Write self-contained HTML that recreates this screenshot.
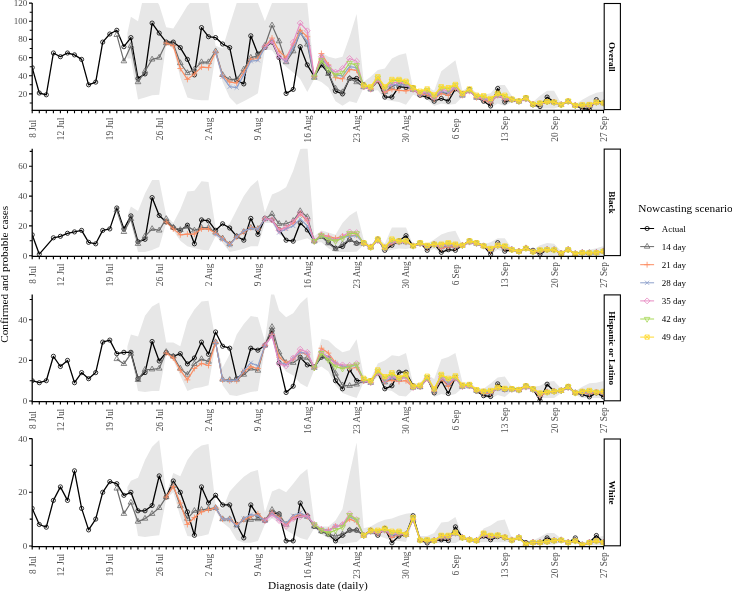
<!DOCTYPE html>
<html><head><meta charset="utf-8"><title>Nowcasting scenarios</title>
<style>html,body{margin:0;padding:0;background:#fff}svg{display:block}</style></head>
<body>
<svg width="732" height="591" viewBox="0 0 732 591" font-family="'Liberation Serif', serif">
<rect width="732" height="591" fill="#fff"/>
<defs><marker id="ma" viewBox="-5 -5 10 10" markerWidth="10" markerHeight="10" refX="0" refY="0" markerUnits="userSpaceOnUse" orient="0"><g fill="none" stroke="#000000" stroke-width="0.8"><circle r="2.1"/></g></marker><marker id="m14" viewBox="-5 -5 10 10" markerWidth="10" markerHeight="10" refX="0" refY="0" markerUnits="userSpaceOnUse" orient="0"><g fill="none" stroke="#6b6b6b" stroke-width="0.8"><path d="M0-3.25L2.8 1.6H-2.8Z"/></g></marker><marker id="m21" viewBox="-5 -5 10 10" markerWidth="10" markerHeight="10" refX="0" refY="0" markerUnits="userSpaceOnUse" orient="0"><g fill="none" stroke="#FC8D62" stroke-width="0.8"><path d="M-2.95 0H2.95M0-2.95V2.95"/></g></marker><marker id="m28" viewBox="-5 -5 10 10" markerWidth="10" markerHeight="10" refX="0" refY="0" markerUnits="userSpaceOnUse" orient="0"><g fill="none" stroke="#8DA0CB" stroke-width="0.8"><path d="M-2.1-2.1L2.1 2.1M-2.1 2.1L2.1-2.1"/></g></marker><marker id="m35" viewBox="-5 -5 10 10" markerWidth="10" markerHeight="10" refX="0" refY="0" markerUnits="userSpaceOnUse" orient="0"><g fill="none" stroke="#E78AC3" stroke-width="0.8"><path d="M0-2.95L2.95 0L0 2.95L-2.95 0Z"/></g></marker><marker id="m42" viewBox="-5 -5 10 10" markerWidth="10" markerHeight="10" refX="0" refY="0" markerUnits="userSpaceOnUse" orient="0"><g fill="none" stroke="#A6D854" stroke-width="0.8"><path d="M0 3.25L2.8-1.6H-2.8Z"/></g></marker><marker id="m49" viewBox="-5 -5 10 10" markerWidth="10" markerHeight="10" refX="0" refY="0" markerUnits="userSpaceOnUse" orient="0"><g fill="none" stroke="#FFD92F" stroke-width="0.8"><path d="M-2.1-2.1H2.1V2.1H-2.1ZM-2.1-2.1L2.1 2.1M-2.1 2.1L2.1-2.1"/></g></marker></defs>
<clipPath id="c0"><rect x="32.2" y="3.1" width="572" height="107.3"/></clipPath>
<g clip-path="url(#c0)"><polygon points="127.4,33.1 130.9,16.7 138,21.2 145,-10.5 152.1,-6 159.2,4.9 166.2,27.2 173.3,28.5 180.3,17.6 187.4,5.8 194.4,-1.5 201.5,-1.5 208.5,3.1 215.6,45.8 222.6,48.5 229.7,24.9 236.7,3.1 243.8,-1.5 250.8,-1.5 257.9,3.1 264.9,21.2 272,3.1 279.1,-4.2 286.1,-4.2 293.2,-4.2 300.2,-4.2 307.3,3.1 314.3,74.9 321.4,52.5 328.4,56.7 335.5,58.5 342.5,56.7 349.6,36.7 356.6,14 363.7,81.7 370.7,76.7 377.8,69.9 384.8,68.5 391.9,58.5 399,54.9 406,53.3 413.1,88.5 420.1,90.8 427.2,87 434.2,90.8 441.3,71.2 448.3,65.8 455.4,60.3 462.4,90.8 469.5,86.7 476.5,93 483.6,94.8 490.6,93.3 497.7,85.1 504.8,85.1 511.8,95.8 518.9,100.3 525.9,97.1 533,102.1 540,95.8 547.1,90.8 554.1,90.8 561.2,103.5 568.2,100.3 575.3,104.4 582.3,99.7 589.4,95.8 596.4,92.7 603.5,91.4 603.5,109.8 596.4,109.8 589.4,109.8 582.3,109.8 575.3,106.2 568.2,102.1 561.2,106.2 554.1,108.5 547.1,108.5 540,108.5 533,105.7 525.9,99.4 518.9,102.1 511.8,102.1 504.8,106 497.7,103.5 490.6,107.9 483.6,101.2 476.5,98.5 469.5,92.1 462.4,96.7 455.4,104.1 448.3,104.8 441.3,103.5 434.2,106 427.2,99.7 420.1,97.1 413.1,94.8 406,104.8 399,102.1 391.9,100.9 384.8,99.7 377.8,90.3 370.7,90.8 363.7,87.6 356.6,103 349.6,101.2 342.5,105.7 335.5,101.2 328.4,87.6 321.4,82.1 314.3,78.9 307.3,92.1 300.2,78.9 293.2,72.5 286.1,66.7 279.1,60.3 272,50.3 264.9,49.4 257.9,93.3 250.8,97.6 243.8,101.2 236.7,104.8 229.7,97.6 222.6,82.1 215.6,54.9 208.5,100.3 201.5,100.3 194.4,99.4 187.4,97.6 180.3,77.6 173.3,48.5 166.2,44 159.2,94.8 152.1,95.3 145,97.6 138,99.4 130.9,58.5 127.4,58.5" fill="#e7e7e7"/><polyline points="32.2,67.6 39.3,93 46.3,94.8 53.4,53 60.4,56.7 67.5,53 74.5,54.9 81.6,59.4 88.6,84.8 95.7,82.1 102.7,42.1 109.8,34 116.8,30.3 123.9,46.7 130.9,37.6 138,78.5 145,73.9 152.1,23.1 159.2,33.1 166.2,42.1 173.3,42.1 180.3,47.6 187.4,59.4 194.4,74.9 201.5,27.6 208.5,36.7 215.6,37.6 222.6,44 229.7,47.6 236.7,80.3 243.8,83.9 250.8,35.8 257.9,54 264.9,47.6 272,42.1 279.1,57.6 286.1,93.5 293.2,89.4 300.2,46.7 307.3,64.9 314.3,76.7 321.4,64.9 328.4,73 335.5,91.2 342.5,93.9 349.6,78.5 356.6,78.5 363.7,84.8 370.7,88.9 377.8,80.7 384.8,97.1 391.9,97.1 399,86.7 406,87.6 413.1,87.6 420.1,95.3 427.2,97.1 434.2,101.2 441.3,98.5 448.3,101.2 455.4,88.9 462.4,93.9 469.5,89.4 476.5,97.1 483.6,101.2 490.6,106 497.7,88.5 504.8,102.1 511.8,99.4 518.9,101.2 525.9,97.6 533,104.8 540,106.6 547.1,97.1 554.1,102.1 561.2,104.8 568.2,101.2 575.3,105.7 582.3,108.5 589.4,109.4 596.4,99.7 603.5,103" fill="none" stroke="#000000" stroke-width="1.3" stroke-linejoin="round" marker-start="url(#ma)" marker-mid="url(#ma)" marker-end="url(#ma)"/><polyline points="116.8,34.9 123.9,61.2 130.9,45.8 138,82.1 145,71.2 152.1,59.4 159.2,57.6 166.2,43.1 173.3,44 180.3,63 187.4,73 194.4,69.4 201.5,62.1 208.5,62.1 215.6,51.2 222.6,74.9 229.7,79.4 236.7,79.4 243.8,69.4 250.8,57.6 257.9,55.8 264.9,45.8 272,25.3 279.1,41.2 286.1,62.1 293.2,51.2 300.2,32.2 307.3,44.4 314.3,77.6 321.4,61.2 328.4,73.9 335.5,88.5 342.5,92.1 349.6,78.5 356.6,82.1 363.7,87 370.7,89.4 377.8,79.8 384.8,91.8 391.9,86.7 399,83.4 406,85 413.1,89.7 420.1,94.4 427.2,93.3 434.2,98.7 441.3,92.2 448.3,93.8 455.4,87.7 462.4,95.5 469.5,91 476.5,97.6 483.6,99.1 490.6,101.8 497.7,95.4 504.8,99.1 511.8,100 518.9,101.5 525.9,99 533,104.3 540,104.1 547.1,101.9 554.1,102.3 561.2,104.8 568.2,101.5 575.3,105.5 582.3,105.9 589.4,105.9 596.4,102.3 603.5,103" fill="none" stroke="#6b6b6b" stroke-width="1.2" stroke-linejoin="round" marker-start="url(#m14)" marker-mid="url(#m14)" marker-end="url(#m14)"/><polyline points="166.2,43.1 173.3,45.8 180.3,68.5 187.4,79.4 194.4,73.9 201.5,67.1 208.5,67.6 215.6,52.1 222.6,75.8 229.7,82.1 236.7,83 243.8,72.1 250.8,59.4 257.9,58.5 264.9,46.7 272,38.1 279.1,51.2 286.1,57.6 293.2,44.9 300.2,30.3 307.3,36.7 314.3,76.7 321.4,53.5 328.4,64.9 335.5,77.6 342.5,78.8 349.6,69.4 356.6,70.3 363.7,86.8 370.7,89.4 377.8,79.9 384.8,92.1 391.9,89.4 399,90.3 406,90.8 413.1,89.2 420.1,94.6 427.2,94.2 434.2,99.1 441.3,93.5 448.3,95.3 455.4,88.1 462.4,95.3 469.5,90.8 476.5,97.6 483.6,99.6 490.6,102.8 497.7,94.9 504.8,99.6 511.8,100 518.9,101.5 525.9,98.8 533,104.4 540,104.7 547.1,101.8 554.1,102.3 561.2,104.8 568.2,101.4 575.3,105.5 582.3,106.5 589.4,106.7 596.4,102.3 603.5,103" fill="none" stroke="#FC8D62" stroke-width="1.2" stroke-linejoin="round" marker-start="url(#m21)" marker-mid="url(#m21)" marker-end="url(#m21)"/><polyline points="215.6,52.1 222.6,76.7 229.7,86.7 236.7,87.6 243.8,74.9 250.8,61.2 257.9,60.3 264.9,47.6 272,41.2 279.1,56.7 286.1,61.2 293.2,47.6 300.2,33.1 307.3,41.2 314.3,76.7 321.4,56.7 328.4,67.1 335.5,74.9 342.5,75.8 349.6,66.7 356.6,67.6 363.7,86.8 370.7,88.8 377.8,79.3 384.8,88.9 391.9,84.8 399,84.4 406,85.3 413.1,89.1 420.1,94 427.2,92.6 434.2,98.1 441.3,91.5 448.3,92.7 455.4,87.4 462.4,95.1 469.5,90.6 476.5,97.2 483.6,98.4 490.6,101.2 497.7,95 504.8,98.4 511.8,99.8 518.9,101.4 525.9,98.8 533,104.3 540,103.9 547.1,101.9 554.1,102.3 561.2,104.8 568.2,101.4 575.3,105.5 582.3,105.7 589.4,105.7 596.4,102.3 603.5,103" fill="none" stroke="#8DA0CB" stroke-width="1.2" stroke-linejoin="round" marker-start="url(#m28)" marker-mid="url(#m28)" marker-end="url(#m28)"/><polyline points="264.9,46.7 272,41.2 279.1,56.7 286.1,60.3 293.2,42.1 300.2,23.1 307.3,30.8 314.3,76.7 321.4,56.7 328.4,66.2 335.5,72.1 342.5,68.5 349.6,58.5 356.6,61.2 363.7,87.1 370.7,88.8 377.8,79.1 384.8,89.4 391.9,82.8 399,82.1 406,83.7 413.1,89.6 420.1,93.4 427.2,91.6 434.2,97.2 441.3,89.5 448.3,90.7 455.4,86.8 462.4,95.2 469.5,91 476.5,97.1 483.6,97.9 490.6,100.1 497.7,95.4 504.8,97.6 511.8,99.9 518.9,101.4 525.9,99 533,104.2 540,103.3 547.1,101.9 554.1,102.3 561.2,104.8 568.2,101.4 575.3,105.4 582.3,105.1 589.4,104.9 596.4,102.3 603.5,103" fill="none" stroke="#E78AC3" stroke-width="1.2" stroke-linejoin="round" marker-start="url(#m35)" marker-mid="url(#m35)" marker-end="url(#m35)"/><polyline points="314.3,76.7 321.4,60.3 328.4,69.4 335.5,74.9 342.5,73 349.6,63 356.6,65.2 363.7,86 370.7,87.4 377.8,77.6 384.8,87.8 391.9,80.7 399,80.3 406,82.3 413.1,88.3 420.1,92 427.2,90 434.2,95.8 441.3,87.7 448.3,88.7 455.4,85.3 462.4,94.2 469.5,89.7 476.5,96.1 483.6,96.5 490.6,99.1 497.7,94.1 504.8,96.2 511.8,99.4 518.9,101.1 525.9,98.2 533,104.1 540,103.1 547.1,101.7 554.1,102.2 561.2,104.8 568.2,101.1 575.3,105.4 582.3,104.9 589.4,104.6 596.4,102.2 603.5,103" fill="none" stroke="#A6D854" stroke-width="1.2" stroke-linejoin="round" marker-start="url(#m42)" marker-mid="url(#m42)" marker-end="url(#m42)"/><polyline points="363.7,85.1 370.7,86.7 377.8,76.7 384.8,86.7 391.9,79.4 399,79.4 406,81.2 413.1,87.6 420.1,91.2 427.2,88.9 434.2,94.8 441.3,86.7 448.3,87.6 455.4,84.4 462.4,93.3 469.5,88.9 476.5,95.2 483.6,95.7 490.6,98.5 497.7,93.3 504.8,95.2 511.8,99 518.9,100.9 525.9,97.7 533,104.1 540,103 547.1,101.6 554.1,102.1 561.2,104.8 568.2,100.9 575.3,105.4 582.3,104.8 589.4,104.5 596.4,102.1 603.5,103" fill="none" stroke="#FFD92F" stroke-width="1.2" stroke-linejoin="round" marker-start="url(#m49)" marker-mid="url(#m49)" marker-end="url(#m49)"/></g>
<path d="M32.2 3.1V110.4H604.2" fill="none" stroke="#000" stroke-width="1.25"/><path d="M32.2 110.4v2.9M39.3 110.4v2.9M46.3 110.4v2.9M53.4 110.4v2.9M60.4 110.4v2.9M67.5 110.4v2.9M74.5 110.4v2.9M81.6 110.4v2.9M88.6 110.4v2.9M95.7 110.4v2.9M102.7 110.4v2.9M109.8 110.4v2.9M116.8 110.4v2.9M123.9 110.4v2.9M130.9 110.4v2.9M138 110.4v2.9M145 110.4v2.9M152.1 110.4v2.9M159.2 110.4v2.9M166.2 110.4v2.9M173.3 110.4v2.9M180.3 110.4v2.9M187.4 110.4v2.9M194.4 110.4v2.9M201.5 110.4v2.9M208.5 110.4v2.9M215.6 110.4v2.9M222.6 110.4v2.9M229.7 110.4v2.9M236.7 110.4v2.9M243.8 110.4v2.9M250.8 110.4v2.9M257.9 110.4v2.9M264.9 110.4v2.9M272 110.4v2.9M279.1 110.4v2.9M286.1 110.4v2.9M293.2 110.4v2.9M300.2 110.4v2.9M307.3 110.4v2.9M314.3 110.4v2.9M321.4 110.4v2.9M328.4 110.4v2.9M335.5 110.4v2.9M342.5 110.4v2.9M349.6 110.4v2.9M356.6 110.4v2.9M363.7 110.4v2.9M370.7 110.4v2.9M377.8 110.4v2.9M384.8 110.4v2.9M391.9 110.4v2.9M399 110.4v2.9M406 110.4v2.9M413.1 110.4v2.9M420.1 110.4v2.9M427.2 110.4v2.9M434.2 110.4v2.9M441.3 110.4v2.9M448.3 110.4v2.9M455.4 110.4v2.9M462.4 110.4v2.9M469.5 110.4v2.9M476.5 110.4v2.9M483.6 110.4v2.9M490.6 110.4v2.9M497.7 110.4v2.9M504.8 110.4v2.9M511.8 110.4v2.9M518.9 110.4v2.9M525.9 110.4v2.9M533 110.4v2.9M540 110.4v2.9M547.1 110.4v2.9M554.1 110.4v2.9M561.2 110.4v2.9M568.2 110.4v2.9M575.3 110.4v2.9M582.3 110.4v2.9M589.4 110.4v2.9M596.4 110.4v2.9M603.5 110.4v2.9M32.2 93.9h-3.2M32.2 75.8h-3.2M32.2 57.6h-3.2M32.2 39.4h-3.2M32.2 21.2h-3.2M32.2 3.1h-3.2M32.2 103h-2.5M32.2 84.8h-2.5M32.2 66.7h-2.5M32.2 48.5h-2.5M32.2 30.3h-2.5M32.2 12.2h-2.5" fill="none" stroke="#000" stroke-width="1.1"/><text x="27.3" y="96.9" text-anchor="end" font-size="9" fill="#4d4d4d">20</text><text x="27.3" y="78.8" text-anchor="end" font-size="9" fill="#4d4d4d">40</text><text x="27.3" y="60.6" text-anchor="end" font-size="9" fill="#4d4d4d">60</text><text x="27.3" y="42.4" text-anchor="end" font-size="9" fill="#4d4d4d">80</text><text x="27.3" y="24.2" text-anchor="end" font-size="9" fill="#4d4d4d">100</text><text x="27.3" y="6.1" text-anchor="end" font-size="9" fill="#4d4d4d">120</text><text transform="translate(35.6 128.9) rotate(-90)" text-anchor="middle" font-size="9.3" fill="#4d4d4d">8 Jul</text><text transform="translate(63.8 128.9) rotate(-90)" text-anchor="middle" font-size="9.3" fill="#4d4d4d">12 Jul</text><text transform="translate(113.2 128.9) rotate(-90)" text-anchor="middle" font-size="9.3" fill="#4d4d4d">19 Jul</text><text transform="translate(162.6 128.9) rotate(-90)" text-anchor="middle" font-size="9.3" fill="#4d4d4d">26 Jul</text><text transform="translate(211.9 128.9) rotate(-90)" text-anchor="middle" font-size="9.3" fill="#4d4d4d">2 Aug</text><text transform="translate(261.3 128.9) rotate(-90)" text-anchor="middle" font-size="9.3" fill="#4d4d4d">9 Aug</text><text transform="translate(310.7 128.9) rotate(-90)" text-anchor="middle" font-size="9.3" fill="#4d4d4d">16 Aug</text><text transform="translate(360 128.9) rotate(-90)" text-anchor="middle" font-size="9.3" fill="#4d4d4d">23 Aug</text><text transform="translate(409.4 128.9) rotate(-90)" text-anchor="middle" font-size="9.3" fill="#4d4d4d">30 Aug</text><text transform="translate(458.8 128.9) rotate(-90)" text-anchor="middle" font-size="9.3" fill="#4d4d4d">6 Sep</text><text transform="translate(508.2 128.9) rotate(-90)" text-anchor="middle" font-size="9.3" fill="#4d4d4d">13 Sep</text><text transform="translate(557.5 128.9) rotate(-90)" text-anchor="middle" font-size="9.3" fill="#4d4d4d">20 Sep</text><text transform="translate(606.9 128.9) rotate(-90)" text-anchor="middle" font-size="9.3" fill="#4d4d4d">27 Sep</text><rect x="604.2" y="3.5" width="16.2" height="106.1" fill="#fff" stroke="#000" stroke-width="1.1"/><text transform="translate(609.4 56.8) rotate(90)" text-anchor="middle" font-size="9.2" font-weight="bold" fill="#000">Overall</text>
<clipPath id="c1"><rect x="32.2" y="148.7" width="572" height="107.7"/></clipPath>
<g clip-path="url(#c1)"><polygon points="128.1,214 130.9,206.5 138,211 145,193.6 152.1,180 159.2,180 166.2,215.5 173.3,222.9 180.3,209.5 187.4,191.6 194.4,190.7 201.5,181.2 208.5,181.9 215.6,227.4 222.6,227.4 229.7,223.4 236.7,209.8 243.8,196.1 250.8,186.3 257.9,180 264.9,212.5 272,194.6 279.1,191.6 286.1,187.2 293.2,170.8 300.2,149.3 307.3,145.4 314.3,236.3 321.4,230.4 328.4,232.5 335.5,234.8 342.5,222.9 349.6,215.5 356.6,211 363.7,239.6 370.7,245.3 377.8,237.1 384.8,243.8 391.9,227.4 399,227.4 406,227.4 413.1,244.7 420.1,241.5 427.2,243.8 434.2,239.6 441.3,234.5 448.3,231.9 455.4,230.7 462.4,244.7 469.5,239.3 476.5,241.5 483.6,244.5 490.6,242.3 497.7,238.3 504.8,238.3 511.8,248.2 518.9,250.5 525.9,246.8 533,249.7 540,245.3 547.1,242.9 554.1,243.8 561.2,251.2 568.2,248.5 575.3,252.7 582.3,251.2 589.4,249.7 596.4,248.2 603.5,245.9 603.5,255 596.4,255 589.4,255 582.3,255 575.3,254.5 568.2,251.2 561.2,254.5 554.1,255 547.1,255 540,255 533,252.7 525.9,249.7 518.9,252.7 511.8,251.2 504.8,252.3 497.7,249.7 490.6,254.2 483.6,247.5 476.5,244.5 469.5,242.3 462.4,247.2 455.4,251.2 448.3,252 441.3,252.7 434.2,249 427.2,251.2 420.1,244.5 413.1,247.8 406,249.1 399,248.4 391.9,249.7 384.8,251.2 377.8,240.8 370.7,249 363.7,244.7 356.6,251.7 349.6,252 342.5,252 335.5,252 328.4,248.2 321.4,242.3 314.3,242.3 307.3,238.3 300.2,240.2 293.2,242.3 286.1,238.3 279.1,234.8 272,222.9 264.9,222.9 257.9,246.2 250.8,246.2 243.8,248.7 236.7,250.5 229.7,252 222.6,242.7 215.6,236.3 208.5,250.5 201.5,249.7 194.4,248.2 187.4,246.2 180.3,240.8 173.3,230.4 166.2,222.9 159.2,247.1 152.1,250 145,252 138,252 130.9,222.9 128.1,217" fill="#e7e7e7"/><polyline points="32.2,234.8 39.3,254.2 53.4,237.8 60.4,236.3 67.5,233.3 74.5,231.9 81.6,230.4 88.6,242.3 95.7,243.8 102.7,230.4 109.8,228.9 116.8,208 123.9,228.9 130.9,215.9 138,241.8 145,239.3 152.1,197.6 159.2,215.5 166.2,221.9 173.3,227.7 180.3,230.4 187.4,225.2 194.4,243.8 201.5,219.9 208.5,220.8 215.6,230.4 222.6,223.8 229.7,228 236.7,236.3 243.8,240.2 250.8,218.4 257.9,234.4 264.9,218.4 272,219.9 279.1,229.6 286.1,240.2 293.2,241.2 300.2,222.9 307.3,229.9 314.3,241.2 321.4,236.3 328.4,242.3 335.5,248.2 342.5,246.5 349.6,239.6 356.6,243.3 363.7,242.7 370.7,247.2 377.8,239 384.8,250.3 391.9,245.3 399,240.8 406,235.7 413.1,245.9 420.1,242.7 427.2,250.3 434.2,244.1 441.3,252.3 448.3,249.7 455.4,250.3 462.4,245.3 469.5,240.8 476.5,242.7 483.6,245.9 490.6,254.2 497.7,242.7 504.8,251.2 511.8,249.7 518.9,251.4 525.9,248.2 533,250.3 540,254.2 547.1,249.7 554.1,249.9 561.2,253.3 568.2,249.7 575.3,253.8 582.3,252.7 589.4,252.9 596.4,252.7 603.5,251.2" fill="none" stroke="#000000" stroke-width="1.3" stroke-linejoin="round" marker-start="url(#ma)" marker-mid="url(#ma)" marker-end="url(#ma)"/><polyline points="116.8,210.1 123.9,231.9 130.9,218.9 138,243.8 145,236.3 152.1,228.9 159.2,230.4 166.2,218.9 173.3,227.4 180.3,229.9 187.4,226.6 194.4,230.4 201.5,227.7 208.5,227.7 215.6,232.5 222.6,238.3 229.7,244.2 236.7,236.3 243.8,231.9 250.8,227.7 257.9,228.9 264.9,218.9 272,214 279.1,223.8 286.1,223.8 293.2,220.8 300.2,211 307.3,217 314.3,241.2 321.4,236.3 328.4,243.2 335.5,249 342.5,244.2 349.6,239.6 356.6,243.3 363.7,243.6 370.7,247.2 377.8,240.7 384.8,248.1 391.9,242.6 399,242.1 406,242.1 413.1,246.1 420.1,243.6 427.2,247.1 434.2,244.7 441.3,247.2 448.3,245.8 455.4,246.5 462.4,245.6 469.5,242.2 476.5,243.6 483.6,246.1 490.6,250.1 497.7,245.6 504.8,247.7 511.8,249.7 518.9,251.4 525.9,248.2 533,251.8 540,251.2 547.1,249.7 554.1,249.9 561.2,253.3 568.2,249.7 575.3,253.8 582.3,252.7 589.4,252.9 596.4,252.7 603.5,251.2" fill="none" stroke="#6b6b6b" stroke-width="1.2" stroke-linejoin="round" marker-start="url(#m14)" marker-mid="url(#m14)" marker-end="url(#m14)"/><polyline points="166.2,221.9 173.3,228.9 180.3,234.8 187.4,234.1 194.4,234.1 201.5,228.9 208.5,228.9 215.6,233.3 222.6,238.7 229.7,244.5 236.7,237.1 243.8,231.9 250.8,227.7 257.9,228.9 264.9,218.9 272,219.9 279.1,229.6 286.1,227.7 293.2,222.9 300.2,214 307.3,220.8 314.3,241.2 321.4,234.8 328.4,236.3 335.5,238.3 342.5,236.3 349.6,235.7 356.6,235.1 363.7,243.4 370.7,247.2 377.8,240.3 384.8,248.6 391.9,243.2 399,241.9 406,241.8 413.1,246 420.1,243.5 427.2,247.8 434.2,244.5 441.3,248.3 448.3,246.6 455.4,247.4 462.4,245.5 469.5,241.8 476.5,243.4 483.6,246 490.6,251 497.7,245.5 504.8,248.4 511.8,249.7 518.9,251.4 525.9,248.2 533,251.8 540,251.8 547.1,249.7 554.1,249.9 561.2,253.3 568.2,249.7 575.3,253.8 582.3,252.7 589.4,252.9 596.4,252.7 603.5,251.2" fill="none" stroke="#FC8D62" stroke-width="1.2" stroke-linejoin="round" marker-start="url(#m21)" marker-mid="url(#m21)" marker-end="url(#m21)"/><polyline points="215.6,234.1 222.6,239.3 229.7,245.3 236.7,236.6 243.8,231.1 250.8,228.3 257.9,229.2 264.9,219.2 272,219.9 279.1,232.5 286.1,228.9 293.2,225.9 300.2,218.9 307.3,225.9 314.3,241.2 321.4,235.9 328.4,238.4 335.5,240.2 342.5,237.4 349.6,236.3 356.6,235.6 363.7,243.4 370.7,247.2 377.8,240.4 384.8,248 391.9,242.1 399,241.8 406,241.9 413.1,246 420.1,243.5 427.2,246.8 434.2,244.6 441.3,246.6 448.3,245.2 455.4,246.1 462.4,245.5 469.5,241.8 476.5,243.5 483.6,246 490.6,249.9 497.7,245.5 504.8,247.4 511.8,249.7 518.9,251.4 525.9,248.2 533,251.8 540,251 547.1,249.7 554.1,249.9 561.2,253.3 568.2,249.7 575.3,253.8 582.3,252.7 589.4,252.9 596.4,252.7 603.5,251.2" fill="none" stroke="#8DA0CB" stroke-width="1.2" stroke-linejoin="round" marker-start="url(#m28)" marker-mid="url(#m28)" marker-end="url(#m28)"/><polyline points="264.9,218.9 272,219.9 279.1,230.4 286.1,227.4 293.2,221.9 300.2,213.1 307.3,219.9 314.3,241.2 321.4,234.8 328.4,237.4 335.5,240.2 342.5,236.3 349.6,231.9 356.6,232.6 363.7,243.6 370.7,247.2 377.8,240.6 384.8,247.5 391.9,241.2 399,242.2 406,242.2 413.1,246 420.1,243.7 427.2,246 434.2,244.6 441.3,245.3 448.3,244.1 455.4,245.2 462.4,245.6 469.5,242.2 476.5,243.7 483.6,246.1 490.6,248.9 497.7,245.6 504.8,246.5 511.8,249.7 518.9,251.4 525.9,248.2 533,251.8 540,250.2 547.1,249.7 554.1,249.9 561.2,253.3 568.2,249.7 575.3,253.8 582.3,252.7 589.4,252.9 596.4,252.7 603.5,251.2" fill="none" stroke="#E78AC3" stroke-width="1.2" stroke-linejoin="round" marker-start="url(#m35)" marker-mid="url(#m35)" marker-end="url(#m35)"/><polyline points="314.3,241.2 321.4,235.4 328.4,239.3 335.5,241.2 342.5,238.3 349.6,233.3 356.6,233.3 363.7,243.1 370.7,247.2 377.8,239.7 384.8,247.3 391.9,239.8 399,241.4 406,241.3 413.1,245.9 420.1,243 427.2,245.6 434.2,244.3 441.3,244.5 448.3,243.3 455.4,244.5 462.4,245.4 469.5,241.3 476.5,243 483.6,245.9 490.6,248.6 497.7,245.4 504.8,246.1 511.8,249.7 518.9,251.4 525.9,248.2 533,251.8 540,250 547.1,249.7 554.1,249.9 561.2,253.3 568.2,249.7 575.3,253.8 582.3,252.7 589.4,252.9 596.4,252.7 603.5,251.2" fill="none" stroke="#A6D854" stroke-width="1.2" stroke-linejoin="round" marker-start="url(#m42)" marker-mid="url(#m42)" marker-end="url(#m42)"/><polyline points="363.7,242.7 370.7,247.2 377.8,239 384.8,247.2 391.9,239 399,240.8 406,240.8 413.1,245.9 420.1,242.7 427.2,245.3 434.2,244.1 441.3,244.1 448.3,242.7 455.4,244.1 462.4,245.3 469.5,240.8 476.5,242.7 483.6,245.9 490.6,248.4 497.7,245.3 504.8,245.9 511.8,249.7 518.9,251.4 525.9,248.2 533,251.8 540,249.9 547.1,249.7 554.1,249.9 561.2,253.3 568.2,249.7 575.3,253.8 582.3,252.7 589.4,252.9 596.4,252.7 603.5,251.2" fill="none" stroke="#FFD92F" stroke-width="1.2" stroke-linejoin="round" marker-start="url(#m49)" marker-mid="url(#m49)" marker-end="url(#m49)"/></g>
<path d="M32.2 148.7V256.4H604.2" fill="none" stroke="#000" stroke-width="1.25"/><path d="M32.2 256.4v2.9M39.3 256.4v2.9M46.3 256.4v2.9M53.4 256.4v2.9M60.4 256.4v2.9M67.5 256.4v2.9M74.5 256.4v2.9M81.6 256.4v2.9M88.6 256.4v2.9M95.7 256.4v2.9M102.7 256.4v2.9M109.8 256.4v2.9M116.8 256.4v2.9M123.9 256.4v2.9M130.9 256.4v2.9M138 256.4v2.9M145 256.4v2.9M152.1 256.4v2.9M159.2 256.4v2.9M166.2 256.4v2.9M173.3 256.4v2.9M180.3 256.4v2.9M187.4 256.4v2.9M194.4 256.4v2.9M201.5 256.4v2.9M208.5 256.4v2.9M215.6 256.4v2.9M222.6 256.4v2.9M229.7 256.4v2.9M236.7 256.4v2.9M243.8 256.4v2.9M250.8 256.4v2.9M257.9 256.4v2.9M264.9 256.4v2.9M272 256.4v2.9M279.1 256.4v2.9M286.1 256.4v2.9M293.2 256.4v2.9M300.2 256.4v2.9M307.3 256.4v2.9M314.3 256.4v2.9M321.4 256.4v2.9M328.4 256.4v2.9M335.5 256.4v2.9M342.5 256.4v2.9M349.6 256.4v2.9M356.6 256.4v2.9M363.7 256.4v2.9M370.7 256.4v2.9M377.8 256.4v2.9M384.8 256.4v2.9M391.9 256.4v2.9M399 256.4v2.9M406 256.4v2.9M413.1 256.4v2.9M420.1 256.4v2.9M427.2 256.4v2.9M434.2 256.4v2.9M441.3 256.4v2.9M448.3 256.4v2.9M455.4 256.4v2.9M462.4 256.4v2.9M469.5 256.4v2.9M476.5 256.4v2.9M483.6 256.4v2.9M490.6 256.4v2.9M497.7 256.4v2.9M504.8 256.4v2.9M511.8 256.4v2.9M518.9 256.4v2.9M525.9 256.4v2.9M533 256.4v2.9M540 256.4v2.9M547.1 256.4v2.9M554.1 256.4v2.9M561.2 256.4v2.9M568.2 256.4v2.9M575.3 256.4v2.9M582.3 256.4v2.9M589.4 256.4v2.9M596.4 256.4v2.9M603.5 256.4v2.9M32.2 255.7h-3.2M32.2 225.9h-3.2M32.2 196.1h-3.2M32.2 166.3h-3.2M32.2 240.8h-2.5M32.2 211h-2.5M32.2 181.2h-2.5M32.2 151.4h-2.5" fill="none" stroke="#000" stroke-width="1.1"/><text x="27.3" y="258.7" text-anchor="end" font-size="9" fill="#4d4d4d">0</text><text x="27.3" y="228.9" text-anchor="end" font-size="9" fill="#4d4d4d">20</text><text x="27.3" y="199.1" text-anchor="end" font-size="9" fill="#4d4d4d">40</text><text x="27.3" y="169.3" text-anchor="end" font-size="9" fill="#4d4d4d">60</text><text transform="translate(35.6 274.9) rotate(-90)" text-anchor="middle" font-size="9.3" fill="#4d4d4d">8 Jul</text><text transform="translate(63.8 274.9) rotate(-90)" text-anchor="middle" font-size="9.3" fill="#4d4d4d">12 Jul</text><text transform="translate(113.2 274.9) rotate(-90)" text-anchor="middle" font-size="9.3" fill="#4d4d4d">19 Jul</text><text transform="translate(162.6 274.9) rotate(-90)" text-anchor="middle" font-size="9.3" fill="#4d4d4d">26 Jul</text><text transform="translate(211.9 274.9) rotate(-90)" text-anchor="middle" font-size="9.3" fill="#4d4d4d">2 Aug</text><text transform="translate(261.3 274.9) rotate(-90)" text-anchor="middle" font-size="9.3" fill="#4d4d4d">9 Aug</text><text transform="translate(310.7 274.9) rotate(-90)" text-anchor="middle" font-size="9.3" fill="#4d4d4d">16 Aug</text><text transform="translate(360 274.9) rotate(-90)" text-anchor="middle" font-size="9.3" fill="#4d4d4d">23 Aug</text><text transform="translate(409.4 274.9) rotate(-90)" text-anchor="middle" font-size="9.3" fill="#4d4d4d">30 Aug</text><text transform="translate(458.8 274.9) rotate(-90)" text-anchor="middle" font-size="9.3" fill="#4d4d4d">6 Sep</text><text transform="translate(508.2 274.9) rotate(-90)" text-anchor="middle" font-size="9.3" fill="#4d4d4d">13 Sep</text><text transform="translate(557.5 274.9) rotate(-90)" text-anchor="middle" font-size="9.3" fill="#4d4d4d">20 Sep</text><text transform="translate(606.9 274.9) rotate(-90)" text-anchor="middle" font-size="9.3" fill="#4d4d4d">27 Sep</text><rect x="604.2" y="149.1" width="16.2" height="106.5" fill="#fff" stroke="#000" stroke-width="1.1"/><text transform="translate(609.4 202.5) rotate(90)" text-anchor="middle" font-size="9.2" font-weight="bold" fill="#000">Black</text>
<clipPath id="c2"><rect x="32.2" y="294.5" width="572" height="107.1"/></clipPath>
<g clip-path="url(#c2)"><polygon points="127.4,346.2 130.9,334.6 138,336.6 145,315.7 152.1,306.4 159.2,302.5 166.2,342.5 173.3,342.5 180.3,346.2 187.4,321 194.4,309.6 201.5,301.5 208.5,300.7 215.6,340.5 222.6,367.7 229.7,354.3 236.7,334.6 243.8,323.9 250.8,316.1 257.9,317.2 264.9,341.1 272,287.3 279.1,310.5 286.1,317.2 293.2,313.3 300.2,303.6 307.3,296.9 314.3,366.5 321.4,338.7 328.4,340.5 335.5,347.2 342.5,352.3 349.6,350.2 356.6,339.3 363.7,375.8 370.7,378.7 377.8,363.6 384.8,360.6 391.9,355.3 399,356.3 406,353.1 413.1,383.5 420.1,382.7 427.2,374.6 434.2,378.9 441.3,359.2 448.3,356.9 455.4,353.1 462.4,381.9 469.5,382.7 476.5,387.8 483.6,388.8 490.6,383.5 497.7,377.5 504.8,376.6 511.8,386.8 518.9,387.8 525.9,383.7 533,386.8 540,385.8 547.1,381.7 554.1,380.9 561.2,388.8 568.2,384.8 575.3,390.9 582.3,386.8 589.4,383.3 596.4,382.7 603.5,380.9 603.5,398 596.4,398 589.4,398 582.3,398 575.3,394.9 568.2,388.8 561.2,392.9 554.1,398 547.1,398 540,398 533,390.9 525.9,387.8 518.9,391.9 511.8,390.9 504.8,397.1 497.7,394.9 490.6,398.8 483.6,397.1 476.5,391.9 469.5,386.8 462.4,388 455.4,394.1 448.3,395.7 441.3,394.1 434.2,396.9 427.2,378.7 420.1,387.8 413.1,389.6 406,396.5 399,395.7 391.9,391.1 384.8,389.6 377.8,376.6 370.7,383.7 363.7,381.9 356.6,398 349.6,395.7 342.5,392.9 335.5,385.2 328.4,371.6 321.4,366.5 314.3,369.7 307.3,387.2 300.2,383.3 293.2,375.6 286.1,371.6 279.1,362.4 272,336.6 264.9,348.2 257.9,391.1 250.8,392.1 243.8,394.1 236.7,395.9 229.7,394.9 222.6,385.2 215.6,344.4 208.5,385.2 201.5,387.2 194.4,388.2 187.4,391.1 180.3,375.6 173.3,360.4 166.2,354.3 159.2,391.1 152.1,391.1 145,392.1 138,391.1 130.9,354.3 127.4,350.2" fill="#e7e7e7"/><polyline points="32.2,380.7 39.3,382.7 46.3,380.7 53.4,356.3 60.4,366.5 67.5,360.4 74.5,382.7 81.6,372.6 88.6,378.7 95.7,372.6 102.7,342.1 109.8,340.1 116.8,353.7 123.9,352.3 130.9,352.3 138,378.7 145,372.6 152.1,341.5 159.2,361 166.2,352.5 173.3,356.3 180.3,353.7 187.4,363.9 194.4,358 201.5,342.1 208.5,354.3 215.6,332 222.6,346.2 229.7,348.2 236.7,378.7 243.8,372.6 250.8,348.2 257.9,350.2 264.9,345.4 272,330.8 279.1,362.8 286.1,392.5 293.2,386.2 300.2,357.2 307.3,364.9 314.3,366.7 321.4,357.2 328.4,358.4 335.5,380.7 342.5,388.8 349.6,369.7 356.6,380.7 363.7,380.7 370.7,380.7 377.8,372.6 384.8,388.8 391.9,385.8 399,372.2 406,372.2 413.1,385.8 420.1,386.6 427.2,378.3 434.2,392.9 441.3,380.7 448.3,393.5 455.4,377.5 462.4,385.8 469.5,385 476.5,391.1 483.6,395.7 490.6,396.5 497.7,383.9 504.8,389.4 511.8,388.6 518.9,389.6 525.9,385.8 533,388.8 540,400.6 547.1,384.2 554.1,391.3 561.2,390.4 568.2,386.4 575.3,392.9 582.3,394.3 589.4,396.9 596.4,392.9 603.5,396.9" fill="none" stroke="#000000" stroke-width="1.3" stroke-linejoin="round" marker-start="url(#ma)" marker-mid="url(#ma)" marker-end="url(#ma)"/><polyline points="116.8,359 123.9,363.9 130.9,353.7 138,379.9 145,369.7 152.1,369.3 159.2,368.5 166.2,351.9 173.3,356.3 180.3,368.5 187.4,374.6 194.4,363.9 201.5,359 208.5,361.6 215.6,342.1 222.6,379.5 229.7,379.9 236.7,379.5 243.8,374.6 250.8,368.5 257.9,370.6 264.9,345.4 272,326.9 279.1,352.3 286.1,362.8 293.2,362.8 300.2,358 307.3,358 314.3,367.7 321.4,356.3 328.4,358.4 335.5,373.6 342.5,385.2 349.6,385.8 356.6,384.4 363.7,381 370.7,382.7 377.8,372.9 384.8,382.2 391.9,378.6 399,379.5 406,376.3 413.1,387.5 420.1,387.1 427.2,378.9 434.2,390.7 441.3,378.2 448.3,384.7 455.4,378.3 462.4,386.7 469.5,386.2 476.5,390.6 483.6,392.7 490.6,392.6 497.7,388.3 504.8,389.5 511.8,389.4 518.9,390.2 525.9,387.1 533,389.5 540,395.2 547.1,392.1 554.1,391.4 561.2,390.8 568.2,387.6 575.3,392.9 582.3,392.3 589.4,392.7 596.4,392.3 603.5,393.1" fill="none" stroke="#6b6b6b" stroke-width="1.2" stroke-linejoin="round" marker-start="url(#m14)" marker-mid="url(#m14)" marker-end="url(#m14)"/><polyline points="166.2,353.1 173.3,358 180.3,370.1 187.4,379.9 194.4,368.5 201.5,363.4 208.5,365.5 215.6,342.5 222.6,379.9 229.7,380.9 236.7,380.7 243.8,371.6 250.8,366.7 257.9,368.5 264.9,345.4 272,334.6 279.1,357.2 286.1,362.8 293.2,359 300.2,352.3 307.3,354.3 314.3,367.7 321.4,348.2 328.4,353.1 335.5,362.8 342.5,366.7 349.6,368.5 356.6,367.5 363.7,381 370.7,382.3 377.8,372.8 384.8,381.5 391.9,380.3 399,381.5 406,380.7 413.1,387.3 420.1,387 427.2,378.8 434.2,391.3 441.3,378.8 448.3,386.6 455.4,378.1 462.4,386.6 469.5,386 476.5,390.7 483.6,393.3 490.6,393.4 497.7,388 504.8,389.5 511.8,389.2 518.9,390.1 525.9,387 533,389.4 540,396.4 547.1,392.1 554.1,391.4 561.2,390.7 568.2,387.4 575.3,392.9 582.3,392.7 589.4,393.7 596.4,392.4 603.5,393.9" fill="none" stroke="#FC8D62" stroke-width="1.2" stroke-linejoin="round" marker-start="url(#m21)" marker-mid="url(#m21)" marker-end="url(#m21)"/><polyline points="215.6,342.5 222.6,379.9 229.7,380.9 236.7,379.9 243.8,370.6 250.8,362.8 257.9,365.9 264.9,345.4 272,335.6 279.1,361.8 286.1,364.9 293.2,358 300.2,352.3 307.3,353.3 314.3,367.7 321.4,352.3 328.4,357.2 335.5,363.4 342.5,366.1 349.6,366.5 356.6,365.5 363.7,380.6 370.7,382.5 377.8,372.2 384.8,381.3 391.9,377.7 399,379.1 406,375.8 413.1,387.3 420.1,386.9 427.2,378.4 434.2,390.4 441.3,377.6 448.3,383.7 455.4,378 462.4,386.4 469.5,386 476.5,390.5 483.6,392.4 490.6,392.3 497.7,388.1 504.8,389.4 511.8,389.3 518.9,390.1 525.9,387 533,389.4 540,394.8 547.1,392.1 554.1,391.4 561.2,390.8 568.2,387.5 575.3,392.9 582.3,392.1 589.4,392.4 596.4,392.3 603.5,392.8" fill="none" stroke="#8DA0CB" stroke-width="1.2" stroke-linejoin="round" marker-start="url(#m28)" marker-mid="url(#m28)" marker-end="url(#m28)"/><polyline points="264.9,345.4 272,335.6 279.1,363.9 286.1,365.9 293.2,358 300.2,349.2 307.3,352.3 314.3,367.7 321.4,352.3 328.4,358 335.5,363.9 342.5,364.9 349.6,365.3 356.6,363.6 363.7,380.5 370.7,382.7 377.8,372.1 384.8,379.7 391.9,375.9 399,379.4 406,376.3 413.1,387.5 420.1,386.7 427.2,378.5 434.2,389.8 441.3,376.9 448.3,381.5 455.4,378 462.4,386.6 469.5,386.1 476.5,390.3 483.6,391.6 490.6,391.3 497.7,388.2 504.8,389.3 511.8,389.4 518.9,390.2 525.9,387.2 533,389.5 540,393.5 547.1,392.1 554.1,391.4 561.2,390.8 568.2,387.6 575.3,392.9 582.3,391.7 589.4,391.3 596.4,392.1 603.5,391.9" fill="none" stroke="#E78AC3" stroke-width="1.2" stroke-linejoin="round" marker-start="url(#m35)" marker-mid="url(#m35)" marker-end="url(#m35)"/><polyline points="314.3,367.7 321.4,353.1 328.4,360 335.5,366.7 342.5,368.7 349.6,366.5 356.6,364.5 363.7,379.1 370.7,381.6 377.8,370.8 384.8,377.9 391.9,373.9 399,378.2 406,374.9 413.1,386.6 420.1,385.9 427.2,377.2 434.2,389.2 441.3,375.3 448.3,379.5 455.4,376.7 462.4,385.7 469.5,385.1 476.5,389.9 483.6,391.3 490.6,390.8 497.7,387.6 504.8,388.8 511.8,388.9 518.9,389.8 525.9,386.3 533,389.1 540,393.1 547.1,392.1 554.1,391.3 561.2,390.6 568.2,386.9 575.3,392.9 582.3,391.4 589.4,390.8 596.4,392.1 603.5,391.5" fill="none" stroke="#A6D854" stroke-width="1.2" stroke-linejoin="round" marker-start="url(#m42)" marker-mid="url(#m42)" marker-end="url(#m42)"/><polyline points="363.7,378.3 370.7,380.7 377.8,369.9 384.8,376.6 391.9,372.8 399,377.5 406,374.2 413.1,386.2 420.1,385.2 427.2,376.2 434.2,388.8 441.3,374.4 448.3,378.3 455.4,375.8 462.4,385 469.5,384.4 476.5,389.6 483.6,391.1 490.6,390.4 497.7,387.2 504.8,388.4 511.8,388.6 518.9,389.6 525.9,385.8 533,388.8 540,392.9 547.1,392.1 554.1,391.3 561.2,390.4 568.2,386.4 575.3,392.9 582.3,391.3 589.4,390.4 596.4,392.1 603.5,391.3" fill="none" stroke="#FFD92F" stroke-width="1.2" stroke-linejoin="round" marker-start="url(#m49)" marker-mid="url(#m49)" marker-end="url(#m49)"/></g>
<path d="M32.2 294.5V401.6H604.2" fill="none" stroke="#000" stroke-width="1.25"/><path d="M32.2 401.6v2.9M39.3 401.6v2.9M46.3 401.6v2.9M53.4 401.6v2.9M60.4 401.6v2.9M67.5 401.6v2.9M74.5 401.6v2.9M81.6 401.6v2.9M88.6 401.6v2.9M95.7 401.6v2.9M102.7 401.6v2.9M109.8 401.6v2.9M116.8 401.6v2.9M123.9 401.6v2.9M130.9 401.6v2.9M138 401.6v2.9M145 401.6v2.9M152.1 401.6v2.9M159.2 401.6v2.9M166.2 401.6v2.9M173.3 401.6v2.9M180.3 401.6v2.9M187.4 401.6v2.9M194.4 401.6v2.9M201.5 401.6v2.9M208.5 401.6v2.9M215.6 401.6v2.9M222.6 401.6v2.9M229.7 401.6v2.9M236.7 401.6v2.9M243.8 401.6v2.9M250.8 401.6v2.9M257.9 401.6v2.9M264.9 401.6v2.9M272 401.6v2.9M279.1 401.6v2.9M286.1 401.6v2.9M293.2 401.6v2.9M300.2 401.6v2.9M307.3 401.6v2.9M314.3 401.6v2.9M321.4 401.6v2.9M328.4 401.6v2.9M335.5 401.6v2.9M342.5 401.6v2.9M349.6 401.6v2.9M356.6 401.6v2.9M363.7 401.6v2.9M370.7 401.6v2.9M377.8 401.6v2.9M384.8 401.6v2.9M391.9 401.6v2.9M399 401.6v2.9M406 401.6v2.9M413.1 401.6v2.9M420.1 401.6v2.9M427.2 401.6v2.9M434.2 401.6v2.9M441.3 401.6v2.9M448.3 401.6v2.9M455.4 401.6v2.9M462.4 401.6v2.9M469.5 401.6v2.9M476.5 401.6v2.9M483.6 401.6v2.9M490.6 401.6v2.9M497.7 401.6v2.9M504.8 401.6v2.9M511.8 401.6v2.9M518.9 401.6v2.9M525.9 401.6v2.9M533 401.6v2.9M540 401.6v2.9M547.1 401.6v2.9M554.1 401.6v2.9M561.2 401.6v2.9M568.2 401.6v2.9M575.3 401.6v2.9M582.3 401.6v2.9M589.4 401.6v2.9M596.4 401.6v2.9M603.5 401.6v2.9M32.2 401h-3.2M32.2 360.4h-3.2M32.2 319.8h-3.2M32.2 380.7h-2.5M32.2 340.1h-2.5M32.2 299.5h-2.5" fill="none" stroke="#000" stroke-width="1.1"/><text x="27.3" y="404" text-anchor="end" font-size="9" fill="#4d4d4d">0</text><text x="27.3" y="363.4" text-anchor="end" font-size="9" fill="#4d4d4d">20</text><text x="27.3" y="322.8" text-anchor="end" font-size="9" fill="#4d4d4d">40</text><text transform="translate(35.6 420.1) rotate(-90)" text-anchor="middle" font-size="9.3" fill="#4d4d4d">8 Jul</text><text transform="translate(63.8 420.1) rotate(-90)" text-anchor="middle" font-size="9.3" fill="#4d4d4d">12 Jul</text><text transform="translate(113.2 420.1) rotate(-90)" text-anchor="middle" font-size="9.3" fill="#4d4d4d">19 Jul</text><text transform="translate(162.6 420.1) rotate(-90)" text-anchor="middle" font-size="9.3" fill="#4d4d4d">26 Jul</text><text transform="translate(211.9 420.1) rotate(-90)" text-anchor="middle" font-size="9.3" fill="#4d4d4d">2 Aug</text><text transform="translate(261.3 420.1) rotate(-90)" text-anchor="middle" font-size="9.3" fill="#4d4d4d">9 Aug</text><text transform="translate(310.7 420.1) rotate(-90)" text-anchor="middle" font-size="9.3" fill="#4d4d4d">16 Aug</text><text transform="translate(360 420.1) rotate(-90)" text-anchor="middle" font-size="9.3" fill="#4d4d4d">23 Aug</text><text transform="translate(409.4 420.1) rotate(-90)" text-anchor="middle" font-size="9.3" fill="#4d4d4d">30 Aug</text><text transform="translate(458.8 420.1) rotate(-90)" text-anchor="middle" font-size="9.3" fill="#4d4d4d">6 Sep</text><text transform="translate(508.2 420.1) rotate(-90)" text-anchor="middle" font-size="9.3" fill="#4d4d4d">13 Sep</text><text transform="translate(557.5 420.1) rotate(-90)" text-anchor="middle" font-size="9.3" fill="#4d4d4d">20 Sep</text><text transform="translate(606.9 420.1) rotate(-90)" text-anchor="middle" font-size="9.3" fill="#4d4d4d">27 Sep</text><rect x="604.2" y="294.9" width="16.2" height="105.9" fill="#fff" stroke="#000" stroke-width="1.1"/><text transform="translate(609.4 348.1) rotate(90)" text-anchor="middle" font-size="9.2" font-weight="bold" fill="#000">Hispanic or Latino</text>
<clipPath id="c3"><rect x="32.2" y="438.6" width="572" height="108"/></clipPath>
<g clip-path="url(#c3)"><polygon points="127.4,486.9 130.9,480.8 138,477.8 145,460.1 152.1,446.7 159.2,439.9 166.2,493.4 173.3,473 180.3,476.2 187.4,460.1 194.4,450.4 201.5,445.6 208.5,444 215.6,504.9 222.6,508.9 229.7,491.5 236.7,483.7 243.8,476.7 250.8,471.9 257.9,470 264.9,512.7 272,491.5 279.1,488.5 286.1,492.3 293.2,483.7 300.2,474.8 307.3,468.9 314.3,522.4 321.4,526.4 328.4,526.4 335.5,520.5 342.5,508.9 349.6,473.8 356.6,442.6 363.7,528.3 370.7,526.4 377.8,522.4 384.8,519.7 391.9,518.6 399,515.7 406,513.8 413.1,512.7 420.1,536.1 427.2,536.1 434.2,533.1 441.3,522.4 448.3,521.8 455.4,517 462.4,536.1 469.5,537.9 476.5,538.8 483.6,528.5 490.6,525.6 497.7,520.8 504.8,519.4 511.8,537.9 518.9,535.8 525.9,542 533,540.6 540,536.9 547.1,533.1 554.1,533.1 561.2,538.5 568.2,540.6 575.3,539 582.3,543.3 589.4,540.1 596.4,536.9 603.5,536.1 603.5,545.2 596.4,545.2 589.4,545.2 582.3,545.7 575.3,542.8 568.2,543.9 561.2,542 554.1,544.7 547.1,544.7 540,544.7 533,544.1 525.9,545.2 518.9,539.6 511.8,542 504.8,542.2 497.7,542.2 490.6,542.2 483.6,542.2 476.5,542.2 469.5,541.4 462.4,539.3 455.4,543 448.3,543 441.3,543 434.2,543 427.2,543 420.1,542 413.1,520.5 406,542 399,540.9 391.9,540.9 384.8,537.9 377.8,536.1 370.7,534.2 363.7,536.1 356.6,542 349.6,542.8 342.5,543.9 335.5,542.8 328.4,537.9 321.4,534.2 314.3,528.3 307.3,540.1 300.2,537.9 293.2,534.2 286.1,530.2 279.1,522.4 272,518.6 264.9,524.5 257.9,540.9 250.8,542.8 243.8,542.8 236.7,540.1 229.7,528.3 222.6,522.4 215.6,510.8 208.5,534.2 201.5,536.1 194.4,537.1 187.4,536.1 180.3,516.5 173.3,492.3 166.2,499 159.2,535.3 152.1,536.1 145,537.1 138,536.1 130.9,493.4 127.4,492.3" fill="#e7e7e7"/><polyline points="32.2,508.4 39.3,524.5 46.3,527.2 53.4,500.4 60.4,486.9 67.5,500.4 74.5,470.8 81.6,508.4 88.6,529.9 95.7,519.1 102.7,492.3 109.8,481.6 116.8,483.7 123.9,495.3 130.9,492.3 138,510.8 145,510.8 152.1,505.5 159.2,475.9 166.2,497.1 173.3,481 180.3,492.3 187.4,511.9 194.4,535.3 201.5,486.9 208.5,503 215.6,495.3 222.6,504.9 229.7,504.9 236.7,524.5 243.8,537.9 250.8,504.9 257.9,515.7 264.9,520.5 272,512.7 279.1,513.8 286.1,540.9 293.2,540.9 300.2,503 307.3,515.7 314.3,526.4 321.4,531.2 328.4,534.2 335.5,540.9 342.5,535.3 349.6,530.2 356.6,530.2 363.7,535.3 370.7,530.2 377.8,535.3 384.8,528.3 391.9,542.8 399,536.1 406,534.2 413.1,515.7 420.1,540.1 427.2,543 434.2,540.6 441.3,539.8 448.3,540.6 455.4,526.9 462.4,537.7 469.5,539.8 476.5,540.6 483.6,536.1 490.6,539.8 497.7,536.6 504.8,537.7 511.8,540.1 518.9,537.7 525.9,542.5 533,542.5 540,542.5 547.1,537.9 554.1,540.6 561.2,540.1 568.2,542.5 575.3,537.9 582.3,544.9 589.4,542.5 596.4,535.5 603.5,542.5" fill="none" stroke="#000000" stroke-width="1.3" stroke-linejoin="round" marker-start="url(#ma)" marker-mid="url(#ma)" marker-end="url(#ma)"/><polyline points="116.8,488.5 123.9,513.8 130.9,502.5 138,521.6 145,518.6 152.1,513.8 159.2,507.9 166.2,497.1 173.3,485.6 180.3,506 187.4,518.6 194.4,510.8 201.5,509.8 208.5,508.9 215.6,507.9 222.6,519.1 229.7,519.1 236.7,525.3 243.8,519.7 250.8,519.7 257.9,519.1 264.9,520.5 272,509.8 279.1,514.6 286.1,524.5 293.2,517.5 300.2,515.7 307.3,516.7 314.3,526.4 321.4,531.2 328.4,534.2 335.5,536.1 342.5,534.2 349.6,530.2 356.6,530.2 363.7,535.6 370.7,531.8 377.8,533.2 384.8,530.2 391.9,536 399,533.9 406,534.8 413.1,519.6 420.1,540.1 427.2,540.8 434.2,540.6 441.3,537 448.3,537.3 455.4,533.3 462.4,537.7 469.5,539.8 476.5,540.6 483.6,534.9 490.6,537 497.7,535.9 504.8,537.3 511.8,540.1 518.9,537.7 525.9,544.1 533,542.5 540,542.5 547.1,541.7 554.1,540.6 561.2,540.1 568.2,542.5 575.3,540.9 582.3,544.9 589.4,542.5 596.4,540.9 603.5,542.5" fill="none" stroke="#6b6b6b" stroke-width="1.2" stroke-linejoin="round" marker-start="url(#m14)" marker-mid="url(#m14)" marker-end="url(#m14)"/><polyline points="166.2,497.1 173.3,486.4 180.3,503 187.4,524.5 194.4,517.5 201.5,511.9 208.5,509.8 215.6,507.9 222.6,519.1 229.7,519.7 236.7,524.5 243.8,519.7 250.8,516.7 257.9,513.8 264.9,520.5 272,512.7 279.1,517.5 286.1,524.5 293.2,517.5 300.2,513.8 307.3,516.7 314.3,524.5 321.4,529.4 328.4,530.2 335.5,526.4 342.5,525.3 349.6,519.1 356.6,521.8 363.7,535.6 370.7,531.4 377.8,533.7 384.8,529.8 391.9,537.5 399,534.5 406,534.7 413.1,519.1 420.1,540.1 427.2,541.3 434.2,540.6 441.3,537.6 448.3,538 455.4,533.1 462.4,537.7 469.5,539.8 476.5,540.6 483.6,535.1 490.6,537.6 497.7,536.1 504.8,537.4 511.8,540.1 518.9,537.7 525.9,544.1 533,542.5 540,542.5 547.1,541.7 554.1,540.6 561.2,540.1 568.2,542.5 575.3,540.9 582.3,544.9 589.4,542.5 596.4,540.9 603.5,542.5" fill="none" stroke="#FC8D62" stroke-width="1.2" stroke-linejoin="round" marker-start="url(#m21)" marker-mid="url(#m21)" marker-end="url(#m21)"/><polyline points="215.6,507.9 222.6,519.1 229.7,519.1 236.7,526.4 243.8,518.6 250.8,514.6 257.9,515.7 264.9,520.5 272,513.8 279.1,518.6 286.1,523.4 293.2,515.7 300.2,512.7 307.3,516.7 314.3,524.5 321.4,529.4 328.4,530.7 335.5,526.4 342.5,525.1 349.6,516.5 356.6,520.5 363.7,535.6 370.7,531.4 377.8,532.7 384.8,529.8 391.9,535.1 399,533.5 406,534.7 413.1,519.1 420.1,540.1 427.2,540.6 434.2,540.6 441.3,536.7 448.3,536.9 455.4,533.2 462.4,537.7 469.5,539.8 476.5,540.6 483.6,534.6 490.6,536.7 497.7,535.7 504.8,537.3 511.8,540.1 518.9,537.7 525.9,544.1 533,542.5 540,542.5 547.1,541.7 554.1,540.6 561.2,540.1 568.2,542.5 575.3,540.9 582.3,544.9 589.4,542.5 596.4,540.9 603.5,542.5" fill="none" stroke="#8DA0CB" stroke-width="1.2" stroke-linejoin="round" marker-start="url(#m28)" marker-mid="url(#m28)" marker-end="url(#m28)"/><polyline points="264.9,520.5 272,514.6 279.1,520.5 286.1,526.4 293.2,518.6 300.2,516.7 307.3,515.7 314.3,524.5 321.4,529.4 328.4,531.2 335.5,526.4 342.5,524.5 349.6,513.8 356.6,519.7 363.7,535.6 370.7,531.6 377.8,532.2 384.8,530.3 391.9,533.4 399,532.8 406,534.8 413.1,519.7 420.1,540.1 427.2,540.1 434.2,540.6 441.3,536 448.3,536.1 455.4,533.3 462.4,537.7 469.5,539.8 476.5,540.6 483.6,534.2 490.6,536 497.7,535.6 504.8,537.2 511.8,540.1 518.9,537.7 525.9,544.1 533,542.5 540,542.5 547.1,541.7 554.1,540.6 561.2,540.1 568.2,542.5 575.3,540.9 582.3,544.9 589.4,542.5 596.4,540.9 603.5,542.5" fill="none" stroke="#E78AC3" stroke-width="1.2" stroke-linejoin="round" marker-start="url(#m35)" marker-mid="url(#m35)" marker-end="url(#m35)"/><polyline points="314.3,524.5 321.4,530.2 328.4,533.1 335.5,530.2 342.5,527.2 349.6,515.1 356.6,519.7 363.7,535.4 370.7,530.8 377.8,531 384.8,529.2 391.9,532.1 399,532 406,534.4 413.1,518.3 420.1,540.1 427.2,539.9 434.2,540.6 441.3,535.5 448.3,535.6 455.4,532.8 462.4,537.7 469.5,539.8 476.5,540.6 483.6,533.5 490.6,535.5 497.7,535.2 504.8,537.2 511.8,540.1 518.9,537.7 525.9,544.1 533,542.5 540,542.5 547.1,541.7 554.1,540.6 561.2,540.1 568.2,542.5 575.3,540.9 582.3,544.9 589.4,542.5 596.4,540.9 603.5,542.5" fill="none" stroke="#A6D854" stroke-width="1.2" stroke-linejoin="round" marker-start="url(#m42)" marker-mid="url(#m42)" marker-end="url(#m42)"/><polyline points="363.7,535.3 370.7,530.2 377.8,530.2 384.8,528.3 391.9,531.2 399,531.2 406,534.2 413.1,517.5 420.1,540.1 427.2,539.8 434.2,540.6 441.3,535.3 448.3,535.3 455.4,532.3 462.4,537.7 469.5,539.8 476.5,540.6 483.6,533.1 490.6,535.3 497.7,535 504.8,537.1 511.8,540.1 518.9,537.7 525.9,544.1 533,542.5 540,542.5 547.1,541.7 554.1,540.6 561.2,540.1 568.2,542.5 575.3,540.9 582.3,544.9 589.4,542.5 596.4,540.9 603.5,542.5" fill="none" stroke="#FFD92F" stroke-width="1.2" stroke-linejoin="round" marker-start="url(#m49)" marker-mid="url(#m49)" marker-end="url(#m49)"/></g>
<path d="M32.2 438.6V546.6H604.2" fill="none" stroke="#000" stroke-width="1.25"/><path d="M32.2 546.6v2.9M39.3 546.6v2.9M46.3 546.6v2.9M53.4 546.6v2.9M60.4 546.6v2.9M67.5 546.6v2.9M74.5 546.6v2.9M81.6 546.6v2.9M88.6 546.6v2.9M95.7 546.6v2.9M102.7 546.6v2.9M109.8 546.6v2.9M116.8 546.6v2.9M123.9 546.6v2.9M130.9 546.6v2.9M138 546.6v2.9M145 546.6v2.9M152.1 546.6v2.9M159.2 546.6v2.9M166.2 546.6v2.9M173.3 546.6v2.9M180.3 546.6v2.9M187.4 546.6v2.9M194.4 546.6v2.9M201.5 546.6v2.9M208.5 546.6v2.9M215.6 546.6v2.9M222.6 546.6v2.9M229.7 546.6v2.9M236.7 546.6v2.9M243.8 546.6v2.9M250.8 546.6v2.9M257.9 546.6v2.9M264.9 546.6v2.9M272 546.6v2.9M279.1 546.6v2.9M286.1 546.6v2.9M293.2 546.6v2.9M300.2 546.6v2.9M307.3 546.6v2.9M314.3 546.6v2.9M321.4 546.6v2.9M328.4 546.6v2.9M335.5 546.6v2.9M342.5 546.6v2.9M349.6 546.6v2.9M356.6 546.6v2.9M363.7 546.6v2.9M370.7 546.6v2.9M377.8 546.6v2.9M384.8 546.6v2.9M391.9 546.6v2.9M399 546.6v2.9M406 546.6v2.9M413.1 546.6v2.9M420.1 546.6v2.9M427.2 546.6v2.9M434.2 546.6v2.9M441.3 546.6v2.9M448.3 546.6v2.9M455.4 546.6v2.9M462.4 546.6v2.9M469.5 546.6v2.9M476.5 546.6v2.9M483.6 546.6v2.9M490.6 546.6v2.9M497.7 546.6v2.9M504.8 546.6v2.9M511.8 546.6v2.9M518.9 546.6v2.9M525.9 546.6v2.9M533 546.6v2.9M540 546.6v2.9M547.1 546.6v2.9M554.1 546.6v2.9M561.2 546.6v2.9M568.2 546.6v2.9M575.3 546.6v2.9M582.3 546.6v2.9M589.4 546.6v2.9M596.4 546.6v2.9M603.5 546.6v2.9M32.2 546h-3.2M32.2 492.3h-3.2M32.2 438.6h-3.2M32.2 519.1h-2.5M32.2 465.4h-2.5" fill="none" stroke="#000" stroke-width="1.1"/><text x="27.3" y="549" text-anchor="end" font-size="9" fill="#4d4d4d">0</text><text x="27.3" y="495.3" text-anchor="end" font-size="9" fill="#4d4d4d">20</text><text x="27.3" y="441.6" text-anchor="end" font-size="9" fill="#4d4d4d">40</text><text transform="translate(35.6 565.1) rotate(-90)" text-anchor="middle" font-size="9.3" fill="#4d4d4d">8 Jul</text><text transform="translate(63.8 565.1) rotate(-90)" text-anchor="middle" font-size="9.3" fill="#4d4d4d">12 Jul</text><text transform="translate(113.2 565.1) rotate(-90)" text-anchor="middle" font-size="9.3" fill="#4d4d4d">19 Jul</text><text transform="translate(162.6 565.1) rotate(-90)" text-anchor="middle" font-size="9.3" fill="#4d4d4d">26 Jul</text><text transform="translate(211.9 565.1) rotate(-90)" text-anchor="middle" font-size="9.3" fill="#4d4d4d">2 Aug</text><text transform="translate(261.3 565.1) rotate(-90)" text-anchor="middle" font-size="9.3" fill="#4d4d4d">9 Aug</text><text transform="translate(310.7 565.1) rotate(-90)" text-anchor="middle" font-size="9.3" fill="#4d4d4d">16 Aug</text><text transform="translate(360 565.1) rotate(-90)" text-anchor="middle" font-size="9.3" fill="#4d4d4d">23 Aug</text><text transform="translate(409.4 565.1) rotate(-90)" text-anchor="middle" font-size="9.3" fill="#4d4d4d">30 Aug</text><text transform="translate(458.8 565.1) rotate(-90)" text-anchor="middle" font-size="9.3" fill="#4d4d4d">6 Sep</text><text transform="translate(508.2 565.1) rotate(-90)" text-anchor="middle" font-size="9.3" fill="#4d4d4d">13 Sep</text><text transform="translate(557.5 565.1) rotate(-90)" text-anchor="middle" font-size="9.3" fill="#4d4d4d">20 Sep</text><text transform="translate(606.9 565.1) rotate(-90)" text-anchor="middle" font-size="9.3" fill="#4d4d4d">27 Sep</text><rect x="604.2" y="439" width="16.2" height="106.8" fill="#fff" stroke="#000" stroke-width="1.1"/><text transform="translate(609.4 492.6) rotate(90)" text-anchor="middle" font-size="9.2" font-weight="bold" fill="#000">White</text>
<text transform="translate(8.1 274.3) rotate(-90)" text-anchor="middle" font-size="11.3" fill="#000">Confirmed and probable cases</text>
<text x="318" y="588.6" text-anchor="middle" font-size="11.3" fill="#000">Diagnosis date (daily)</text>
<text x="638.3" y="212.3" font-size="11.3" fill="#000">Nowcasting scenario</text>
<polyline points="640.2,228.5 647.1,228.5 654.1,228.5" fill="none" stroke="#000000" stroke-width="1" marker-mid="url(#ma)"/>
<text x="661.7" y="231.5" font-size="9" fill="#000">Actual</text>
<polyline points="640.2,246.6 647.1,246.6 654.1,246.6" fill="none" stroke="#6b6b6b" stroke-width="1" marker-mid="url(#m14)"/>
<text x="661.7" y="249.6" font-size="9" fill="#000">14 day</text>
<polyline points="640.2,264.7 647.1,264.7 654.1,264.7" fill="none" stroke="#FC8D62" stroke-width="1" marker-mid="url(#m21)"/>
<text x="661.7" y="267.7" font-size="9" fill="#000">21 day</text>
<polyline points="640.2,282.8 647.1,282.8 654.1,282.8" fill="none" stroke="#8DA0CB" stroke-width="1" marker-mid="url(#m28)"/>
<text x="661.7" y="285.8" font-size="9" fill="#000">28 day</text>
<polyline points="640.2,300.9 647.1,300.9 654.1,300.9" fill="none" stroke="#E78AC3" stroke-width="1" marker-mid="url(#m35)"/>
<text x="661.7" y="303.9" font-size="9" fill="#000">35 day</text>
<polyline points="640.2,319 647.1,319 654.1,319" fill="none" stroke="#A6D854" stroke-width="1" marker-mid="url(#m42)"/>
<text x="661.7" y="322" font-size="9" fill="#000">42 day</text>
<polyline points="640.2,337.1 647.1,337.1 654.1,337.1" fill="none" stroke="#FFD92F" stroke-width="1" marker-mid="url(#m49)"/>
<text x="661.7" y="340.1" font-size="9" fill="#000">49 day</text>
</svg>
</body></html>
